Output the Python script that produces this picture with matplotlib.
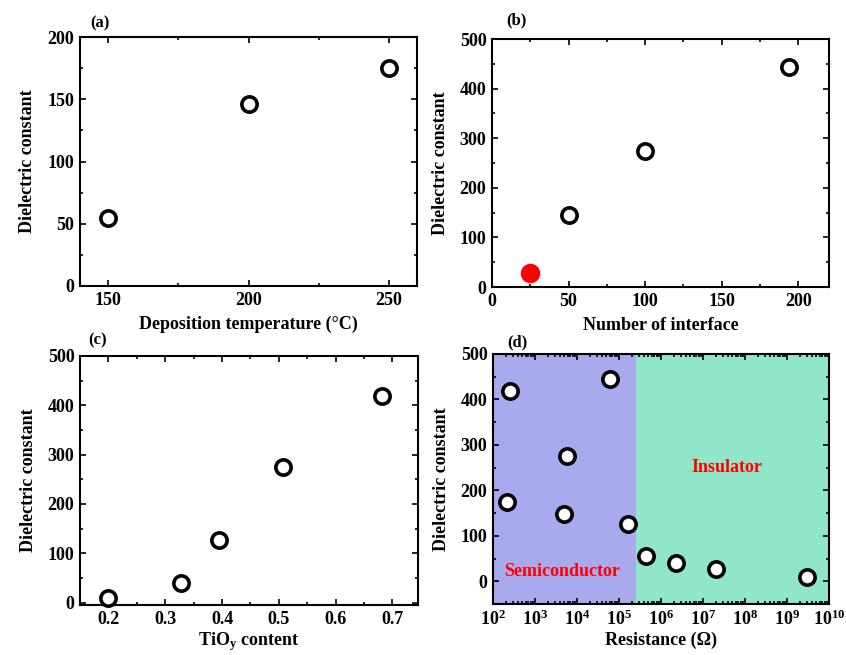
import matplotlib
matplotlib.use("Agg")
import matplotlib.pyplot as plt
from matplotlib.ticker import MultipleLocator, LogLocator, NullFormatter
import numpy as np

plt.rcParams['font.family'] = ['Liberation Serif', 'DejaVu Serif']
plt.rcParams['font.weight'] = 'bold'
plt.rcParams['mathtext.fontset'] = 'custom'
plt.rcParams['mathtext.rm'] = 'Liberation Serif:bold'
plt.rcParams['mathtext.it'] = 'Liberation Serif:bold'
plt.rcParams['mathtext.bf'] = 'Liberation Serif:bold'

# (a) deposition temperature
temp_c = [150, 200, 250]
k_temp = [55, 146, 175]

# (b) number of interface
n_interface = [50, 100, 194]
k_interface = [145, 275, 443]
n_interface_red = [25]
k_interface_red = [28]

# (c) TiOy content
tio_content = [0.20, 0.328, 0.395, 0.507, 0.682]
k_tio = [10, 40, 126, 275, 419]

# (d) resistance
resistance = [2.5e2, 2.15e2, 5.0e3, 5.9e3, 6.2e4, 1.6e5, 4.4e5, 2.3e6, 2.05e7, 3.0e9]
k_res = [419, 174, 147, 275, 444, 126, 55, 40, 27, 10]
boundary = 2.6e5

W, H = 846, 655
fig = plt.figure(figsize=(W/100, H/100), dpi=100)

def make_ax(l, t, r, b):
    return fig.add_axes([l/W, 1-b/H, (r-l)/W, (b-t)/H])

axA = make_ax(80, 37, 417, 286)
axB = make_ax(492, 39, 829, 287)
axC = make_ax(80, 356, 418, 605)
axD = make_ax(493, 354, 829, 604)

mk = dict(marker='o', ms=11, mfc='white', mec='black', mew=2.6, ls='none', zorder=5, clip_on=False)

TICK_FS = 13
LAB_FS = 13

def style(ax):
    ax.tick_params(which='both', direction='in', top=True, right=True, labelsize=TICK_FS, width=1.2)
    ax.tick_params(which='major', length=4, pad=4)
    ax.tick_params(which='minor', length=2.5)
    for s in ax.spines.values():
        s.set_linewidth(1.5)
    for lab in ax.get_xticklabels() + ax.get_yticklabels():
        lab.set_fontweight('bold')

lab_kw = dict(fontsize=LAB_FS, fontweight='bold')

# (a)
axA.plot(temp_c, k_temp, **mk)
axA.set_xlim(140, 260)
axA.set_ylim(0, 200)
axA.xaxis.set_major_locator(MultipleLocator(50))
axA.xaxis.set_minor_locator(MultipleLocator(25))
axA.yaxis.set_major_locator(MultipleLocator(50))
axA.yaxis.set_minor_locator(MultipleLocator(25))
axA.set_xlabel('Deposition temperature (°C)', labelpad=5, **lab_kw)
axA.set_ylabel('Dielectric constant', labelpad=8, **lab_kw)
style(axA)

# (b)
axB.plot(n_interface, k_interface, **mk)
axB.plot(n_interface_red, k_interface_red, marker='o', ms=13, color='#ff0000', ls='none', zorder=5)
axB.set_xlim(0, 220)
axB.set_ylim(0, 500)
axB.xaxis.set_major_locator(MultipleLocator(50))
axB.xaxis.set_minor_locator(MultipleLocator(25))
axB.yaxis.set_major_locator(MultipleLocator(100))
axB.yaxis.set_minor_locator(MultipleLocator(50))
axB.set_xlabel('Number of interface', labelpad=5, **lab_kw)
axB.set_ylabel('Dielectric constant', labelpad=8, **lab_kw)
style(axB)

# (c)
axC.plot(tio_content, k_tio, **mk)
axC.set_xlim(0.15, 0.745)
axC.set_ylim(-5, 500)
axC.xaxis.set_major_locator(MultipleLocator(0.1))
axC.xaxis.set_minor_locator(MultipleLocator(0.05))
axC.yaxis.set_major_locator(MultipleLocator(100))
axC.yaxis.set_minor_locator(MultipleLocator(50))
axC.set_xlabel(r'TiO$_{\mathrm{y}}$ content', labelpad=2, **lab_kw)
axC.set_ylabel('Dielectric constant', labelpad=8, **lab_kw)
style(axC)

# (d)
axD.set_xscale('log')
axD.set_xlim(1e2, 1e10)
axD.set_ylim(-50, 500)
axD.axvspan(1e2, boundary, color='#a9a9ee', zorder=0, lw=0)
axD.axvspan(boundary, 1e10, color='#8fe6c8', zorder=0, lw=0)
axD.plot(resistance, k_res, **mk)
axD.xaxis.set_major_locator(LogLocator(base=10, numticks=20))
axD.xaxis.set_minor_locator(LogLocator(base=10, subs=np.arange(2, 10), numticks=20))
axD.xaxis.set_minor_formatter(NullFormatter())
axD.yaxis.set_major_locator(MultipleLocator(100))
axD.yaxis.set_minor_locator(MultipleLocator(50))
axD.set_xlabel('Resistance (Ω)', labelpad=2, **lab_kw)
axD.set_ylabel('Dielectric constant', labelpad=8, **lab_kw)
axD.text(1.8e2, 22, 'Semiconductor', color='red', fontsize=13, fontweight='bold', va='center', ha='left')
axD.text(3.7e7, 251, 'Insulator', color='red', fontsize=13, fontweight='bold', va='center', ha='center')
style(axD)

# panel labels
fig.text(90/W, 1-23/H, '(a)', fontsize=12, fontweight='bold', va='center')
fig.text(506/W, 1-20/H, '(b)', fontsize=12, fontweight='bold', va='center')
fig.text(88/W, 1-340/H, '(c)', fontsize=12, fontweight='bold', va='center')
fig.text(507/W, 1-342/H, '(d)', fontsize=12, fontweight='bold', va='center')

fig.savefig('out.png', dpi=100)
